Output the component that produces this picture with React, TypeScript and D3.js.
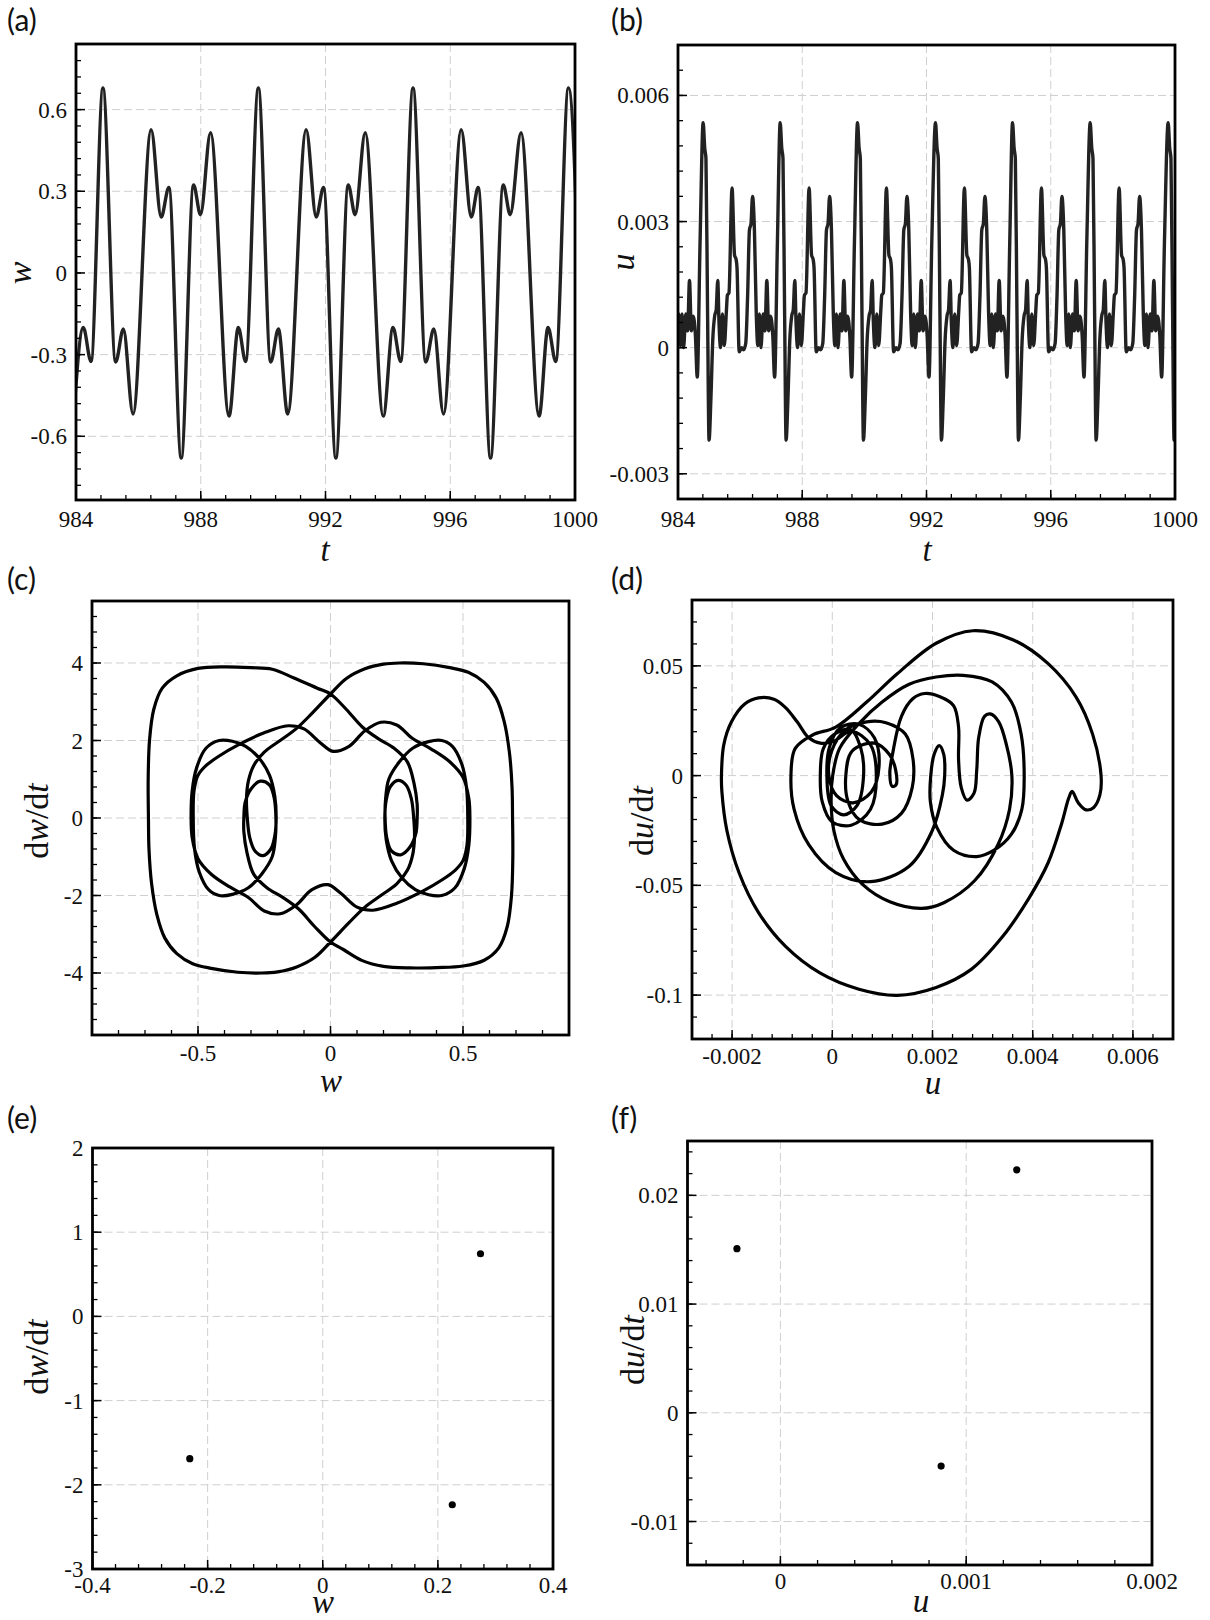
import React from 'react';
import * as d3 from 'd3';

// ---------------- DATA ----------------
// (a) w(t): extrema
const W_SERIES: [number, number][] = [
  [983.925, -0.526], [984.234, -0.2], [984.481, -0.325], [984.864, 0.68], [985.272, -0.327], [985.519, -0.206],
  [985.828, -0.518], [986.409, 0.526], [986.731, 0.205], [986.978, 0.314], [987.374, -0.68], [987.770, 0.323],
  [987.992, 0.214], [988.314, 0.515], [988.908, -0.526], [989.204, -0.2], [989.439, -0.325], [989.847, 0.68],
  [990.243, -0.327], [990.490, -0.206], [990.787, -0.518], [991.380, 0.526], [991.702, 0.205], [991.937, 0.314],
  [992.333, -0.68], [992.729, 0.323], [992.951, 0.214], [993.273, 0.515], [993.854, -0.526], [994.163, -0.2],
  [994.411, -0.325], [994.806, 0.68], [995.214, -0.327], [995.474, -0.206], [995.783, -0.518], [996.352, 0.526],
  [996.674, 0.205], [996.896, 0.314], [997.292, -0.68], [997.700, 0.323], [997.923, 0.214], [998.269, 0.515],
  [998.850, -0.526], [999.135, -0.2], [999.382, -0.325], [999.790, 0.68], [1000.198, -0.327],
];

// (b) u(t)
const U_SERIES: [number, number][] = [
  [983.98, 0.0003], [984.03, 0.0008], [984.08, 0.00005], [984.13, 0.0008], [984.18, 0.0], [984.25, 0.0008],
  [984.31, 0.0004], [984.37, 0.0016], [984.43, 0.0004], [984.49, 0.00075], [984.56, 0.0003], [984.62, -0.0007], [984.71, 0.0025],
  [984.81, 0.00535], [984.86, 0.00475], [984.90, 0.0045], [984.95, 0.001], [985.00, -0.0022], [985.06, -0.0012],
  [985.12, 0.0002], [985.18, 0.00075], [985.23, 0.0009], [985.28, 0.0016], [985.32, 0.0006], [985.37, 0.0],
  [985.43, 0.0008], [985.49, 0.00005], [985.56, 0.0009], [985.59, 0.00125], [985.64, 0.0013], [985.74, 0.0038],
  [985.82, 0.0022], [985.87, 0.0021], [985.90, 0.0019], [985.97, -0.0001], [986.05, 0.0], [986.11, -0.00005],
  [986.18, 0.0001], [986.24, 0.0012], [986.30, 0.0028], [986.35, 0.00295], [986.40, 0.0036], [986.46, 0.0028],
  [986.52, 0.0008], [986.57, 0.00005], [986.62, 0.0008], [986.67, 0.0], [986.74, 0.0008], [986.80, 0.0004],
  [986.86, 0.0016], [986.92, 0.0004], [986.98, 0.00075], [987.05, 0.0003], [987.11, -0.0007], [987.20, 0.0025],
  [987.29, 0.00535], [987.34, 0.00475], [987.38, 0.0045], [987.43, 0.001], [987.48, -0.0022], [987.54, -0.0012],
  [987.60, 0.0002], [987.66, 0.00075], [987.71, 0.0009], [987.76, 0.0016], [987.80, 0.0006], [987.85, 0.0],
  [987.91, 0.0008], [987.97, 0.00005], [988.04, 0.0009], [988.07, 0.00125], [988.12, 0.0013], [988.22, 0.0038],
  [988.30, 0.0022], [988.35, 0.0021], [988.38, 0.0019], [988.45, -0.0001], [988.53, 0.0], [988.59, -0.00005],
  [988.66, 0.0001], [988.72, 0.0012], [988.78, 0.0028], [988.83, 0.00295], [988.88, 0.0036], [988.94, 0.0028],
  [989.00, 0.0008], [989.05, 0.00005], [989.10, 0.0008], [989.15, 0.0], [989.22, 0.0008], [989.28, 0.0004],
  [989.34, 0.0016], [989.40, 0.0004], [989.46, 0.00075], [989.53, 0.0003], [989.59, -0.0007], [989.68, 0.0025],
  [989.78, 0.00535], [989.83, 0.00475], [989.87, 0.0045], [989.92, 0.001], [989.97, -0.0022], [990.03, -0.0012],
  [990.09, 0.0002], [990.15, 0.00075], [990.20, 0.0009], [990.25, 0.0016], [990.29, 0.0006], [990.34, 0.0],
  [990.40, 0.0008], [990.46, 0.00005], [990.53, 0.0009], [990.56, 0.00125], [990.61, 0.0013], [990.71, 0.0038],
  [990.79, 0.0022], [990.84, 0.0021], [990.87, 0.0019], [990.94, -0.0001], [991.02, 0.0], [991.08, -0.00005],
  [991.15, 0.0001], [991.21, 0.0012], [991.27, 0.0028], [991.32, 0.00295], [991.37, 0.0036], [991.43, 0.0028],
  [991.49, 0.0008], [991.54, 0.00005], [991.59, 0.0008], [991.64, 0.0], [991.71, 0.0008], [991.77, 0.0004],
  [991.83, 0.0016], [991.89, 0.0004], [991.95, 0.00075], [992.02, 0.0003], [992.08, -0.0007], [992.17, 0.0025],
  [992.29, 0.00535], [992.34, 0.00475], [992.38, 0.0045], [992.43, 0.001], [992.48, -0.0022], [992.54, -0.0012],
  [992.60, 0.0002], [992.66, 0.00075], [992.71, 0.0009], [992.76, 0.0016], [992.80, 0.0006], [992.85, 0.0],
  [992.91, 0.0008], [992.97, 0.00005], [993.04, 0.0009], [993.07, 0.00125], [993.12, 0.0013], [993.22, 0.0038],
  [993.30, 0.0022], [993.35, 0.0021], [993.38, 0.0019], [993.45, -0.0001], [993.53, 0.0], [993.59, -0.00005],
  [993.66, 0.0001], [993.72, 0.0012], [993.78, 0.0028], [993.83, 0.00295], [993.88, 0.0036], [993.94, 0.0028],
  [994.00, 0.0008], [994.05, 0.00005], [994.10, 0.0008], [994.15, 0.0], [994.22, 0.0008], [994.28, 0.0004],
  [994.34, 0.0016], [994.40, 0.0004], [994.46, 0.00075], [994.53, 0.0003], [994.59, -0.0007], [994.68, 0.0025],
  [994.77, 0.00535], [994.82, 0.00475], [994.86, 0.0045], [994.91, 0.001], [994.96, -0.0022], [995.02, -0.0012],
  [995.08, 0.0002], [995.14, 0.00075], [995.19, 0.0009], [995.24, 0.0016], [995.28, 0.0006], [995.33, 0.0],
  [995.39, 0.0008], [995.45, 0.00005], [995.52, 0.0009], [995.55, 0.00125], [995.60, 0.0013], [995.70, 0.0038],
  [995.78, 0.0022], [995.83, 0.0021], [995.86, 0.0019], [995.93, -0.0001], [996.01, 0.0], [996.07, -0.00005],
  [996.14, 0.0001], [996.20, 0.0012], [996.26, 0.0028], [996.31, 0.00295], [996.36, 0.0036], [996.42, 0.0028],
  [996.48, 0.0008], [996.53, 0.00005], [996.58, 0.0008], [996.63, 0.0], [996.70, 0.0008], [996.76, 0.0004],
  [996.82, 0.0016], [996.88, 0.0004], [996.94, 0.00075], [997.01, 0.0003], [997.07, -0.0007], [997.16, 0.0025],
  [997.27, 0.00535], [997.32, 0.00475], [997.36, 0.0045], [997.41, 0.001], [997.46, -0.0022], [997.52, -0.0012],
  [997.58, 0.0002], [997.64, 0.00075], [997.69, 0.0009], [997.74, 0.0016], [997.78, 0.0006], [997.83, 0.0],
  [997.89, 0.0008], [997.95, 0.00005], [998.02, 0.0009], [998.05, 0.00125], [998.10, 0.0013], [998.20, 0.0038],
  [998.28, 0.0022], [998.33, 0.0021], [998.36, 0.0019], [998.43, -0.0001], [998.51, 0.0], [998.57, -0.00005],
  [998.64, 0.0001], [998.70, 0.0012], [998.76, 0.0028], [998.81, 0.00295], [998.86, 0.0036], [998.92, 0.0028],
  [998.98, 0.0008], [999.03, 0.00005], [999.08, 0.0008], [999.13, 0.0], [999.20, 0.0008], [999.26, 0.0004],
  [999.32, 0.0016], [999.38, 0.0004], [999.44, 0.00075], [999.51, 0.0003], [999.57, -0.0007], [999.66, 0.0025],
  [999.78, 0.00535], [999.83, 0.00475], [999.87, 0.0045], [999.92, 0.001], [999.97, -0.0022], [1000.03, -0.0012],
];

// (c) phase portrait (w, dw/dt)
const C_ORBIT: [number, number][] = [
  [0.687, 0], [0.688, -1.0], [0.683, -2.0], [0.667, -2.8], [0.635, -3.35], [0.58, -3.67], [0.5, -3.82], [0.4, -3.86],
  [0.3, -3.87], [0.2, -3.83], [0.12, -3.68], [0.05, -3.4], [0, -3.2], [-0.06, -2.8], [-0.12, -2.35], [-0.18, -2.05],
  [-0.24, -1.8], [-0.29, -1.45], [-0.315, -0.9], [-0.327, -0.35], [-0.327, 0],
  [-0.322, 0.4], [-0.3, 0.75], [-0.265, 0.95], [-0.23, 0.85], [-0.212, 0.5], [-0.206, 0],
  [-0.208, -0.5], [-0.22, -1.0], [-0.26, -1.45], [-0.31, -1.8], [-0.37, -1.97], [-0.42, -2.0], [-0.46, -1.85],
  [-0.495, -1.4], [-0.513, -0.8], [-0.518, 0],
  [-0.515, 0.7], [-0.5, 1.1], [-0.47, 1.35], [-0.42, 1.6], [-0.35, 1.88], [-0.25, 2.2], [-0.16, 2.38], [-0.1, 2.3],
  [-0.04, 1.95], [0.01, 1.72], [0.07, 1.85], [0.13, 2.25], [0.19, 2.47], [0.25, 2.4], [0.31, 2.05], [0.38, 1.78],
  [0.45, 1.45], [0.5, 1.05], [0.522, 0.5], [0.526, 0],
  [0.522, -0.7], [0.505, -1.3], [0.47, -1.8], [0.42, -2.0], [0.37, -1.98], [0.32, -1.85], [0.27, -1.55], [0.23, -1.1],
  [0.21, -0.55], [0.205, 0],
  [0.21, 0.45], [0.225, 0.8], [0.255, 0.97], [0.285, 0.85], [0.305, 0.5], [0.314, 0],
  [0.317, -0.5], [0.31, -0.95], [0.29, -1.35], [0.25, -1.7], [0.19, -2.0], [0.13, -2.3], [0.07, -2.7], [0, -3.2],
  [-0.06, -3.6], [-0.13, -3.85], [-0.2, -3.97], [-0.26, -4.0], [-0.35, -3.98], [-0.45, -3.88], [-0.52, -3.76],
  [-0.58, -3.5], [-0.625, -3.1], [-0.655, -2.5], [-0.675, -1.7], [-0.685, -0.8], [-0.687, 0],
  [-0.688, 1.0], [-0.683, 2.0], [-0.667, 2.8], [-0.635, 3.35], [-0.58, 3.67], [-0.5, 3.86], [-0.4, 3.9], [-0.3, 3.88],
  [-0.22, 3.84], [-0.14, 3.62], [-0.05, 3.35], [0, 3.2], [0.06, 2.8], [0.12, 2.35], [0.18, 2.05], [0.24, 1.8],
  [0.29, 1.45], [0.315, 0.9], [0.327, 0.35], [0.327, 0],
  [0.322, -0.4], [0.3, -0.75], [0.265, -0.95], [0.23, -0.85], [0.212, -0.5], [0.206, 0],
  [0.208, 0.5], [0.22, 1.0], [0.26, 1.45], [0.31, 1.8], [0.37, 1.97], [0.42, 2.0], [0.46, 1.85], [0.495, 1.4],
  [0.513, 0.8], [0.518, 0],
  [0.515, -0.7], [0.5, -1.1], [0.47, -1.35], [0.42, -1.6], [0.35, -1.88], [0.25, -2.2], [0.16, -2.38], [0.1, -2.3],
  [0.04, -1.95], [-0.01, -1.72], [-0.07, -1.85], [-0.13, -2.25], [-0.19, -2.47], [-0.25, -2.4], [-0.31, -2.05],
  [-0.38, -1.78], [-0.45, -1.45], [-0.5, -1.05], [-0.522, -0.5], [-0.526, 0],
  [-0.522, 0.7], [-0.505, 1.3], [-0.47, 1.8], [-0.42, 2.0], [-0.37, 1.98], [-0.32, 1.85], [-0.27, 1.55], [-0.23, 1.1],
  [-0.21, 0.55], [-0.205, 0],
  [-0.21, -0.45], [-0.225, -0.8], [-0.255, -0.97], [-0.285, -0.85], [-0.305, -0.5], [-0.314, 0],
  [-0.317, 0.5], [-0.31, 0.95], [-0.29, 1.35], [-0.25, 1.7], [-0.19, 2.0], [-0.13, 2.3], [-0.07, 2.7], [0, 3.2],
  [0.06, 3.6], [0.13, 3.85], [0.2, 3.97], [0.26, 4.0], [0.35, 3.98], [0.45, 3.88], [0.52, 3.76], [0.58, 3.5],
  [0.625, 3.1], [0.655, 2.5], [0.675, 1.7], [0.685, 0.8],
];

// (d) phase portrait (u, du/dt)
const D_ORBIT: [number, number][] = [
  [0.005364, 0], [0.005341, -0.0088], [0.005218, -0.0145], [0.005064, -0.0156], [0.004909, -0.0124], [0.004786, -0.0072],
  [0.004717, -0.0104], [0.004578, -0.0218], [0.004308, -0.0397], [0.003923, -0.0559], [0.003383, -0.0738],
  [0.002767, -0.0884], [0.002073, -0.0965], [0.001295, -0.1001], [0.000532, -0.0973], [-0.000239, -0.09],
  [-0.000933, -0.0778], [-0.001472, -0.0624], [-0.001857, -0.0445], [-0.002104, -0.025], [-0.002204, -0.0072],
  [-0.002212, 0], [-0.002166, 0.014], [-0.002012, 0.0245], [-0.001742, 0.0327], [-0.001472, 0.0354],
  [-0.001164, 0.0348], [-0.000933, 0.031], [-0.000701, 0.0245], [-0.00047, 0.0172], [-0.000239, 0.0148], [0.000031, 0.0156],
  [0.000378, 0.0202], [0.000763, 0.014], [0.000879, 0], [0.000763, -0.0153], [0.000378, -0.0226], [-0.000008, -0.021],
  [-0.0002, -0.012], [-0.000239, 0], [-0.000177, 0.0124], [0.000069, 0.0192], [0.000378, 0.0208], [0.00057, 0.0124],
  [0.000624, 0], [0.000493, -0.0137], [0.000224, -0.0179], [-0.000023, -0.0137], [-0.000108, 0], [-0.000054, 0.0132],
  [0.000162, 0.0218], [0.000532, 0.0234], [0.00084, 0.0172], [0.000933, 0.0042], [0.000778, -0.0075], [0.000416, -0.0124],
  [0.000085, -0.0091], [-0.000069, 0], [-0.000008, 0.0115], [0.000262, 0.0208],
  [0.000686, 0.0245], [0.001071, 0.0241], [0.001457, 0.0189], [0.001611, 0.0075], [0.001595, -0.0055], [0.00138, -0.0172],
  [0.000994, -0.0221], [0.000547, -0.0202], [0.000316, -0.012], [0.00027, 0], [0.000393, 0.0111],
  [0.00084, 0.0148], [0.001148, 0.0094], [0.001264, 0.0026], [0.001272, -0.0042], [0.001195, -0.0049], [0.001148, 0.001],
  [0.00121, 0.0107], [0.00138, 0.027], [0.001611, 0.0351], [0.001842, 0.0374], [0.00215, 0.0359], [0.00242, 0.0319],
  [0.00252, 0.0221], [0.00252, 0.0075], [0.002574, -0.0055], [0.00269, -0.0112], [0.002829, -0.008], [0.002883, 0.0026],
  [0.002921, 0.0172], [0.003037, 0.027], [0.003152, 0.0281], [0.003322, 0.0245], [0.003476, 0.014], [0.003584, 0],
  [0.003538, -0.0153], [0.003306, -0.0315], [0.002844, -0.0478], [0.002227, -0.0579], [0.001788, -0.0605],
  [0.001148, -0.0575], [0.000609, -0.0497], [0.000224, -0.038], [0.000031, -0.025], [-0.000023, -0.012], [0.000008, 0],
  [0.000146, 0.0124], [0.000532, 0.0237], [0.000994, 0.0335], [0.001534, 0.0416], [0.002073, 0.0449], [0.002613, 0.0457],
  [0.003191, 0.0427], [0.003576, 0.0335], [0.003769, 0.0189], [0.00383, 0], [0.003784, -0.0153], [0.003576, -0.0267],
  [0.003229, -0.034], [0.002883, -0.0369], [0.00242, -0.034], [0.002089, -0.0237], [0.001958, -0.012], [0.001965, 0],
  [0.002035, 0.0099], [0.002135, 0.0137], [0.002227, 0.0094], [0.002243, 0], [0.002197, -0.0088],
  [0.001996, -0.025], [0.001534, -0.0413], [0.000763, -0.0483], [0.000069, -0.0442], [-0.00047, -0.0315],
  [-0.000763, -0.0153], [-0.000825, 0], [-0.00074, 0.0124], [-0.000393, 0.0185], [0.000069, 0.0221], [0.000686, 0.0335],
  [0.001302, 0.0465], [0.002073, 0.0603], [0.002805, 0.066], [0.003615, 0.0618], [0.004308, 0.051], [0.004863, 0.0359],
  [0.005195, 0.0189],
];

// (e) Poincare points (w, dw/dt)
const E_W = [-0.231, 0.274, 0.225];
const E_DW = [-1.69, 0.744, -2.237];
// (f) Poincare points (u, du/dt)
const F_U = [-0.000234, 0.001272, 0.000865];
const F_DU = [0.0151, 0.02235, -0.0049];

// ---------------- LAYOUT ----------------
type Box = { left: number; right: number; top: number; bottom: number };

const SERIF = '"Liberation Serif", "Times New Roman", serif';
const SANS = 'Lato, "Open Sans", sans-serif';

function stepTicks(d0: number, d1: number, step: number): number[] {
  const lo = Math.min(d0, d1), hi = Math.max(d0, d1);
  const k0 = Math.ceil(lo / step - 1e-6), k1 = Math.floor(hi / step + 1e-6);
  const out: number[] = [];
  for (let k = k0; k <= k1; k++) out.push(+(k * step).toFixed(10));
  return out;
}
const fmt = (v: number) => {
  const r = +v.toFixed(8);
  return r === 0 ? '0' : String(r);
};

type PanelProps = {
  id: string;
  box: Box;
  xDom: [number, number];
  yDom: [number, number];
  xStep: number; yStep: number; xMinor: number; yMinor: number;
  label: string; labelPos: [number, number];
  xTitle: React.ReactNode; xTitlePos: [number, number];
  yTitle: React.ReactNode; yTitlePos: [number, number];
  xLabelDy: number;
  render: (xs: d3.ScaleLinear<number, number>, ys: d3.ScaleLinear<number, number>) => React.ReactNode;
};

function Panel(p: PanelProps) {
  const { box } = p;
  const xs = d3.scaleLinear().domain(p.xDom).range([box.left, box.right]);
  const ys = d3.scaleLinear().domain(p.yDom).range([box.bottom, box.top]);
  const xMaj = stepTicks(p.xDom[0], p.xDom[1], p.xStep);
  const yMaj = stepTicks(p.yDom[0], p.yDom[1], p.yStep);
  const xMin = stepTicks(p.xDom[0], p.xDom[1], p.xMinor);
  const yMin = stepTicks(p.yDom[0], p.yDom[1], p.yMinor);
  const eps = 1.5;
  return (
    <g>
      <defs>
        <clipPath id={`clip-${p.id}`}>
          <rect x={box.left} y={box.top} width={box.right - box.left} height={box.bottom - box.top} />
        </clipPath>
      </defs>
      {xMaj.filter(v => xs(v) > box.left + eps && xs(v) < box.right - eps).map(v => (
        <line key={`gx${v}`} x1={xs(v)} x2={xs(v)} y1={box.top} y2={box.bottom} stroke="#cfcfcf" strokeWidth={1} strokeDasharray="8,4" />
      ))}
      {yMaj.filter(v => ys(v) > box.top + eps && ys(v) < box.bottom - eps).map(v => (
        <line key={`gy${v}`} x1={box.left} x2={box.right} y1={ys(v)} y2={ys(v)} stroke="#cfcfcf" strokeWidth={1} strokeDasharray="8,4" />
      ))}
      <g clipPath={`url(#clip-${p.id})`}>{p.render(xs, ys)}</g>
      {xMin.map(v => (
        <line key={`mx${v}`} x1={xs(v)} x2={xs(v)} y1={box.bottom} y2={box.bottom - 5} stroke="#000" strokeWidth={1.3} />
      ))}
      {yMin.map(v => (
        <line key={`my${v}`} x1={box.left} x2={box.left + 5} y1={ys(v)} y2={ys(v)} stroke="#000" strokeWidth={1.3} />
      ))}
      {xMaj.map(v => (
        <line key={`Mx${v}`} x1={xs(v)} x2={xs(v)} y1={box.bottom} y2={box.bottom - 9} stroke="#000" strokeWidth={1.5} />
      ))}
      {yMaj.map(v => (
        <line key={`My${v}`} x1={box.left} x2={box.left + 9} y1={ys(v)} y2={ys(v)} stroke="#000" strokeWidth={1.5} />
      ))}
      <rect x={box.left} y={box.top} width={box.right - box.left} height={box.bottom - box.top} fill="none" stroke="#000" strokeWidth={2.8} />
      {xMaj.map(v => (
        <text key={`lx${v}`} x={xs(v)} y={box.bottom + p.xLabelDy} textAnchor="middle" fontFamily={SERIF} fontSize={23} fill="#111">{fmt(v)}</text>
      ))}
      {yMaj.map(v => (
        <text key={`ly${v}`} x={box.left - 9} y={ys(v) + 8} textAnchor="end" fontFamily={SERIF} fontSize={23} fill="#111">{fmt(v)}</text>
      ))}
      <text x={p.xTitlePos[0]} y={p.xTitlePos[1]} textAnchor="middle" fontFamily={SERIF} fontSize={33} fill="#111">{p.xTitle}</text>
      <text transform={`translate(${p.yTitlePos[0]},${p.yTitlePos[1]}) rotate(-90)`} textAnchor="middle" fontFamily={SERIF} fontSize={34} fill="#111">{p.yTitle}</text>
      <text x={p.labelPos[0]} y={p.labelPos[1]} fontFamily={SANS} fontSize={30} fill="#111">{p.label}</text>
    </g>
  );
}

const It = ({ children }: { children: React.ReactNode }) => <tspan fontStyle="italic">{children}</tspan>;
const dOver = (v: string) => (<><tspan>d</tspan><tspan fontStyle="italic">{v}</tspan><tspan>/d</tspan><tspan fontStyle="italic">t</tspan></>);

export default function App() {
  const lineTS = (data: [number, number][]) => (xs: any, ys: any) => {
    const gen = d3.line<[number, number]>().x(d => xs(d[0])).y(d => ys(d[1])).curve(d3.curveMonotoneX);
    return <path d={gen(data) || ''} fill="none" stroke="#222" strokeWidth={3.4} strokeLinejoin="round" />;
  };
  const lineOrbit = (data: [number, number][]) => (xs: any, ys: any) => {
    const gen = d3.line<[number, number]>().x(d => xs(d[0])).y(d => ys(d[1])).curve(d3.curveCatmullRomClosed.alpha(0.5));
    return <path d={gen(data) || ''} fill="none" stroke="#000" strokeWidth={3.2} strokeLinejoin="round" />;
  };
  const dots = (xv: number[], yv: number[]) => (xs: any, ys: any) => (
    <g>{xv.map((x, i) => <circle key={i} cx={xs(x)} cy={ys(yv[i])} r={3.6} fill="#000" />)}</g>
  );

  return (
    <svg width={1210} height={1620} viewBox="0 0 1210 1620" style={{ position: 'absolute', left: 0, top: 0, background: '#fff' }}>
      <rect x={0} y={0} width={1210} height={1620} fill="#fff" />
      <Panel id="a" box={{ left: 76, right: 575, top: 44, bottom: 500 }} xDom={[984, 1000]} yDom={[-0.834, 0.841]}
        xStep={4} yStep={0.3} xMinor={0.8} yMinor={0.06} label="(a)" labelPos={[7, 31]}
        xTitle={<It>t</It>} xTitlePos={[325, 561]} yTitle={<It>w</It>} yTitlePos={[31, 273]} xLabelDy={27}
        render={lineTS(W_SERIES)} />
      <Panel id="b" box={{ left: 678, right: 1175, top: 45, bottom: 499 }} xDom={[984, 1000]} yDom={[-0.0036, 0.0072]}
        xStep={4} yStep={0.003} xMinor={0.8} yMinor={0.0006} label="(b)" labelPos={[611, 31]}
        xTitle={<It>t</It>} xTitlePos={[927, 561]} yTitle={<It>u</It>} yTitlePos={[634, 262]} xLabelDy={28}
        render={lineTS(U_SERIES)} />
      <Panel id="c" box={{ left: 92, right: 569, top: 601, bottom: 1035 }} xDom={[-0.9, 0.9]} yDom={[-5.6, 5.6]}
        xStep={0.5} yStep={2} xMinor={0.1} yMinor={0.4} label="(c)" labelPos={[7, 590]}
        xTitle={<It>w</It>} xTitlePos={[331, 1092]} yTitle={dOver('w')} yTitlePos={[48, 821]} xLabelDy={26}
        render={lineOrbit(C_ORBIT)} />
      <Panel id="d" box={{ left: 692, right: 1173, top: 600, bottom: 1039 }} xDom={[-0.0028, 0.0068]} yDom={[-0.12, 0.08]}
        xStep={0.002} yStep={0.05} xMinor={0.0004} yMinor={0.01} label="(d)" labelPos={[611, 590]}
        xTitle={<It>u</It>} xTitlePos={[933, 1094]} yTitle={dOver('u')} yTitlePos={[653, 821]} xLabelDy={25}
        render={lineOrbit(D_ORBIT)} />
      <Panel id="e" box={{ left: 92.5, right: 553, top: 1148, bottom: 1569 }} xDom={[-0.4, 0.4]} yDom={[-3, 2]}
        xStep={0.2} yStep={1} xMinor={0.04} yMinor={0.2} label="(e)" labelPos={[7, 1129]}
        xTitle={<It>w</It>} xTitlePos={[323, 1613]} yTitle={dOver('w')} yTitlePos={[48, 1357]} xLabelDy={24}
        render={dots(E_W, E_DW)} />
      <Panel id="f" box={{ left: 687.5, right: 1152, top: 1141, bottom: 1565 }} xDom={[-0.0005, 0.002]} yDom={[-0.014, 0.025]}
        xStep={0.001} yStep={0.01} xMinor={0.0002} yMinor={0.002} label="(f)" labelPos={[611, 1129]}
        xTitle={<It>u</It>} xTitlePos={[921, 1612]} yTitle={dOver('u')} yTitlePos={[644, 1350]} xLabelDy={24}
        render={dots(F_U, F_DU)} />
    </svg>
  );
}
